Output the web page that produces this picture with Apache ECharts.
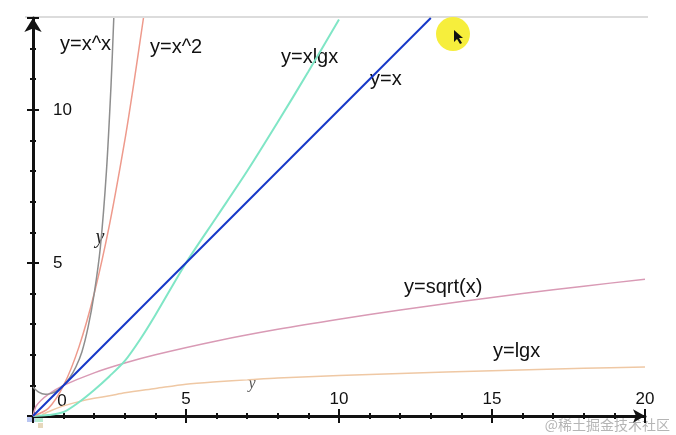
<!DOCTYPE html>
<html>
<head>
<meta charset="utf-8">
<script src="https://cdn.jsdelivr.net/npm/echarts@6/dist/echarts.min.js"></script>
<style>
html,body{margin:0;padding:0;background:#fff;}
#c{width:676px;height:435px;}
</style>
</head>
<body>
<div id="c"></div>
<script>
// ---- data: [x, y] pairs ----
const curveXpowX = [[0,0.95],[0.2,0.77],[0.4,0.71],[0.6,0.74],[0.8,0.84],[1,1],[1.2,1.25],[1.4,1.6],[1.6,2.1],[1.8,2.9],[2,4],[2.2,5.5],[2.4,8.0],[2.55,10.8],[2.64,13]];
const curveXsq    = [[0,0],[0.5,0.25],[1,1],[1.5,2.25],[2,4],[2.5,6.25],[3,9],[3.3,10.9],[3.61,13]];
const curveXlgX   = [[0,0],[0.5,0.03],[1,0.13],[1.5,0.45],[2,0.85],[2.5,1.3],[3,1.8],[3.5,2.5],[4,3.3],[5,5],[6,6.5],[7,8.0],[8,9.6],[9,11.25],[10,12.95]];
const curveX      = [[0,0],[13,13]];
const curveSqrt   = [[0,0],[0.1,0.32],[0.25,0.5],[0.5,0.71],[1,1],[2,1.41],[3,1.73],[4,2],[6,2.45],[8,2.83],[10,3.16],[12,3.46],[14,3.74],[16,4],[18,4.24],[20,4.47]];
const curveLg     = [[0.3,0.05],[0.6,0.18],[1,0.33],[1.5,0.47],[2,0.58],[2.5,0.66],[3,0.76],[4,0.9],[5,1.04],[6,1.12],[7,1.18],[8,1.24],[10,1.32],[12,1.39],[15,1.48],[18,1.56],[20,1.6]];

const xTickLabels = ['5','10','15','20'];
const yTickLabels = ['5','10'];
const curveNames = ['y=x^x','y=x^2','y=xlgx','y=x','y=sqrt(x)','y=lgx'];

const FONT = '"Liberation Sans", Arial, Helvetica, sans-serif';
const AX = '#111';

function xAxisDef(interval, len, inside, withLine, withLabel) {
  return {
    type:'value', min:0, max:20, interval:interval, position:'bottom', offset:0,
    axisLine:{show:withLine, lineStyle:{color:AX,width:3}, symbol:['none','arrow'], symbolSize:[10,12]},
    axisTick:{show:true, inside:inside, length:len, lineStyle:{color:AX,width:2}},
    axisLabel:{show:withLabel, inside:true, margin:8, color:AX, fontSize:17, fontFamily:FONT,
      formatter:function(v){ const s=String(v); return xTickLabels.indexOf(s)>=0 ? s : ''; }},
    splitLine:{show:false}
  };
}
function yAxisDef(interval, len, inside, withLine, withLabel) {
  return {
    type:'value', min:0, max:13, interval:interval, position:'left', offset:0,
    axisLine:{show:withLine, lineStyle:{color:AX,width:3}, symbol:['none','arrow'], symbolSize:[13,14]},
    axisTick:{show:true, inside:inside, length:len, lineStyle:{color:AX,width:2}},
    axisLabel:{show:withLabel, inside:true, margin:20, color:AX, fontSize:17, fontFamily:FONT,
      formatter:function(v){ const s=String(v); return yTickLabels.indexOf(s)>=0 ? s : ''; }},
    splitLine:{show:false}
  };
}

function line(data, color, width) {
  return {type:'line', data:data, showSymbol:false, smooth:0.3, clip:true,
    xAxisIndex:0, yAxisIndex:0, lineStyle:{color:color, width:width}, silent:true};
}

const chart = echarts.init(document.getElementById('c'), null, {renderer:'canvas'});
chart.setOption({
  animation:false,
  backgroundColor:'#fff',
  grid:{left:33, right:31, top:18, bottom:19, containLabel:false},
  xAxis:[ xAxisDef(1,3,false,true,true), xAxisDef(1,3,true,false,false), xAxisDef(5,7,false,false,false), xAxisDef(5,7,true,false,false) ],
  yAxis:[ yAxisDef(1,3,false,true,true), yAxisDef(1,3,true,false,false), yAxisDef(5,6,false,false,false), yAxisDef(5,6,true,false,false) ],
  series:[
    line(curveLg,   '#efc8a4', 1.5),
    line(curveSqrt, '#d99ab5', 1.5),
    line(curveXlgX, '#80e6c6', 2),
    line(curveXsq,  '#ee9a8c', 1.5),
    line(curveXpowX,'#8e8e8e', 1.5),
    line(curveX,    '#1638c8', 2)
  ],
  graphic:[
    {type:'line', shape:{x1:25,y1:17,x2:648,y2:17}, style:{stroke:'#dcdcdc', lineWidth:2}, z:-1},
    {type:'text', x:60,  y:44, style:{text:curveNames[0], font:'20px '+FONT, fill:'#111', textVerticalAlign:'middle'}},
    {type:'text', x:150, y:47, style:{text:curveNames[1], font:'20px '+FONT, fill:'#111', textVerticalAlign:'middle'}},
    {type:'text', x:281, y:57, style:{text:curveNames[2], font:'20px '+FONT, fill:'#111', textVerticalAlign:'middle'}},
    {type:'text', x:370, y:79, style:{text:curveNames[3], font:'20px '+FONT, fill:'#111', textVerticalAlign:'middle'}},
    {type:'text', x:404, y:287, style:{text:curveNames[4], font:'20px '+FONT, fill:'#111', textVerticalAlign:'middle'}},
    {type:'text', x:493, y:351, style:{text:curveNames[5], font:'20px '+FONT, fill:'#111', textVerticalAlign:'middle'}},
    {type:'text', x:62, y:401, style:{text:'0', font:'17px '+FONT, fill:'#111', textAlign:'center', textVerticalAlign:'middle'}},
    {type:'text', x:100, y:238, style:{text:'y', font:'italic 20px "Liberation Serif", "DejaVu Serif", serif', fill:'#222', textAlign:'center', textVerticalAlign:'middle'}},
    {type:'text', x:252, y:384, style:{text:'y', font:'italic 16px "Liberation Serif", "DejaVu Serif", serif', fill:'#555', textAlign:'center', textVerticalAlign:'middle'}},
    {type:'circle', shape:{cx:453, cy:34, r:17}, style:{fill:'#f6ee3c'}},
    {type:'polygon', shape:{points:[[454,30],[454,42],[457,39],[460,44],[462,43],[459,38],[463,38]]}, style:{fill:'#111'}},
    {type:'rect', shape:{x:27,y:416,width:8,height:6}, style:{fill:'#b9c6f2'}},
    {type:'rect', shape:{x:35,y:417,width:8,height:5}, style:{fill:'#b8ecd2'}},
    {type:'rect', shape:{x:38,y:423,width:5,height:5}, style:{fill:'#e6d8bc'}},
    {type:'text', x:670, y:425, style:{text:'@稀土掘金技术社区', font:'14px "Noto Sans CJK SC", sans-serif', fill:'#b5b5b5', textAlign:'right', textVerticalAlign:'middle'}}
  ]
});
</script>
</body>
</html>
